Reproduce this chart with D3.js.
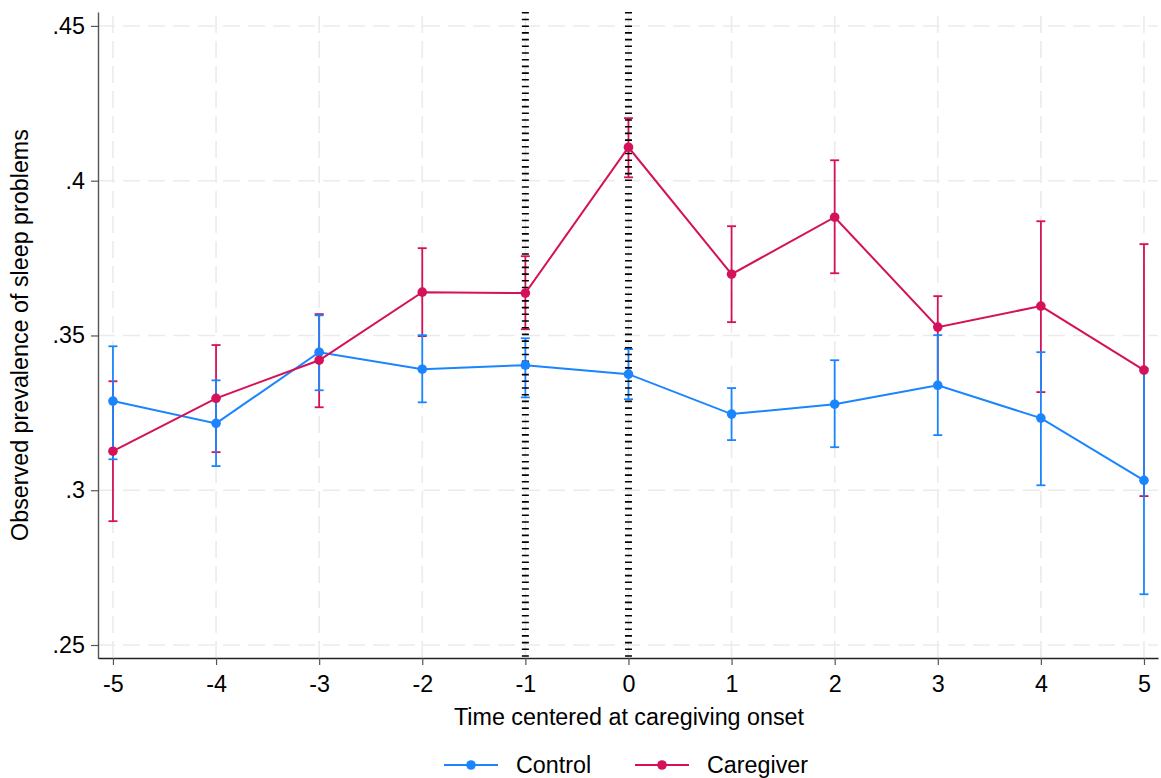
<!DOCTYPE html>
<html>
<head>
<meta charset="utf-8">
<script src="https://cdn.jsdelivr.net/npm/d3@7"></script>
<style>
  body { margin: 0; background: #fff; }
  text { font-family: "Liberation Sans", Arial, sans-serif; fill: #000; }
</style>
</head>
<body>
<svg id="chart" width="1161" height="778"></svg>
<script>
"use strict";

const times = [-5, -4, -3, -2, -1, 0, 1, 2, 3, 4, 5];
const yTicks = [0.25, 0.3, 0.35, 0.4, 0.45];
const markerTimes = [-1, 0];

const controlMean = [0.3288, 0.3216, 0.3446, 0.3391, 0.3404, 0.3375, 0.3246, 0.3278, 0.3339, 0.3233, 0.3032];
const controlUpper = [0.3465, 0.3355, 0.3565, 0.3501, 0.3491, 0.3456, 0.3330, 0.3420, 0.3501, 0.3446, 0.3394];
const controlLower = [0.3100, 0.3078, 0.3323, 0.3284, 0.3300, 0.3294, 0.3162, 0.3139, 0.3178, 0.3016, 0.2664];

const careMean = [0.3126, 0.3297, 0.3420, 0.3640, 0.3637, 0.4108, 0.3698, 0.3882, 0.3527, 0.3595, 0.3388];
const careUpper = [0.3352, 0.3469, 0.3569, 0.3782, 0.3756, 0.4202, 0.3853, 0.4066, 0.3627, 0.3869, 0.3795];
const careLower = [0.2900, 0.3123, 0.3268, 0.3498, 0.3520, 0.4011, 0.3543, 0.3701, 0.3336, 0.3317, 0.2981];

const seriesNames = ["Control", "Caregiver"];
const seriesColors = ["#1a85ff", "#d41159"];

const series = [
  { name: seriesNames[0], color: seriesColors[0], mean: controlMean, hi: controlUpper, lo: controlLower },
  { name: seriesNames[1], color: seriesColors[1], mean: careMean, hi: careUpper, lo: careLower }
];

const plot = { left: 98, right: 1158, top: 12, bottom: 658 };
const fontSize = 23.3;

const x = d3.scaleLinear().domain([-5.145, 5.136]).range([plot.left, plot.right]);
const y = d3.scaleLinear().domain([0.2458, 0.4545]).range([plot.bottom, plot.top]);

const svg = d3.select("#chart");

// grid
const grid = svg.append("g").attr("stroke", "#ebebeb").attr("stroke-width", 1.6).attr("stroke-dasharray", "17,8");
grid.selectAll("line.h").data(yTicks).join("line")
  .attr("x1", plot.left).attr("x2", plot.right)
  .attr("y1", d => y(d)).attr("y2", d => y(d));
grid.selectAll("line.v").data(times).join("line")
  .attr("y1", plot.bottom).attr("y2", plot.top)
  .attr("x1", d => x(d)).attr("x2", d => x(d));

// axes
const fmtY = d => d3.format(".2~f")(d).replace(/^0/, "");
const yAxis = svg.append("g").attr("transform", `translate(${plot.left},0)`)
  .call(d3.axisLeft(y).tickValues(yTicks).tickFormat(fmtY).tickSizeInner(7).tickSizeOuter(0).tickPadding(6))
  .attr("font-size", fontSize).attr("font-family", "Liberation Sans, Arial, sans-serif");
yAxis.select(".domain").attr("stroke", "#555").attr("stroke-width", 1.4);
yAxis.selectAll(".tick line").attr("stroke", "#555").attr("stroke-width", 1.2);
yAxis.selectAll(".tick text").attr("fill", "#000");

const xAxis = svg.append("g").attr("transform", `translate(0,${plot.bottom})`)
  .call(d3.axisBottom(x).tickValues(times).tickFormat(d => d < 0 ? "-" + Math.abs(d) : d).tickSizeInner(7).tickSizeOuter(0).tickPadding(10))
  .attr("font-size", fontSize).attr("font-family", "Liberation Sans, Arial, sans-serif");
xAxis.select(".domain").attr("stroke", "#222").attr("stroke-width", 1.4);
xAxis.selectAll(".tick line").attr("stroke", "#555").attr("stroke-width", 1.2);
xAxis.selectAll(".tick text").attr("fill", "#000");

// axis titles
svg.append("text").attr("x", 629).attr("y", 725)
  .attr("text-anchor", "middle").attr("font-size", fontSize).text("Time centered at caregiving onset");
svg.append("text").attr("transform", `translate(28,${(plot.top + plot.bottom) / 2}) rotate(-90)`)
  .attr("text-anchor", "middle").attr("font-size", fontSize).text("Observed prevalence of sleep problems");

// error bars
const capW = 4.5;
series.slice().reverse().forEach(s => {
  const g = svg.append("g").attr("stroke", s.color).attr("stroke-width", 1.8);
  g.selectAll("line.bar").data(times).join("line")
    .attr("x1", d => x(d)).attr("x2", d => x(d))
    .attr("y1", (d, i) => y(s.hi[i])).attr("y2", (d, i) => y(s.lo[i]));
  g.selectAll("line.hi").data(times).join("line")
    .attr("x1", d => x(d) - capW).attr("x2", d => x(d) + capW)
    .attr("y1", (d, i) => y(s.hi[i])).attr("y2", (d, i) => y(s.hi[i]));
  g.selectAll("line.lo").data(times).join("line")
    .attr("x1", d => x(d) - capW).attr("x2", d => x(d) + capW)
    .attr("y1", (d, i) => y(s.lo[i])).attr("y2", (d, i) => y(s.lo[i]));
});

// marker lines at onset (drawn as stacked short dashes)
svg.append("g").selectAll("line").data(markerTimes).join("line")
  .attr("x1", d => x(d)).attr("x2", d => x(d))
  .attr("y1", plot.top).attr("y2", plot.bottom)
  .attr("stroke", "#000").attr("stroke-width", 7)
  .attr("stroke-dasharray", "1.6,5.1");

// lines and points
series.forEach(s => {
  const line = d3.line().x((d, i) => x(times[i])).y(d => y(d));
  svg.append("path").datum(s.mean).attr("d", line)
    .attr("fill", "none").attr("stroke", s.color).attr("stroke-width", 2);
  svg.append("g").selectAll("circle").data(s.mean).join("circle")
    .attr("cx", (d, i) => x(times[i])).attr("cy", d => y(d)).attr("r", 4.8)
    .attr("fill", s.color);
});

// legend
const legend = svg.append("g").attr("transform", "translate(0,765)");
const legendX = [444, 635];
series.forEach((s, i) => {
  const g = legend.append("g").attr("transform", `translate(${legendX[i]},0)`);
  g.append("line").attr("x1", 0).attr("x2", 54).attr("stroke", s.color).attr("stroke-width", 2);
  g.append("circle").attr("cx", 27).attr("r", 4.8).attr("fill", s.color);
  g.append("text").attr("x", 72).attr("y", 8).attr("font-size", fontSize).text(s.name);
});
</script>
</body>
</html>
